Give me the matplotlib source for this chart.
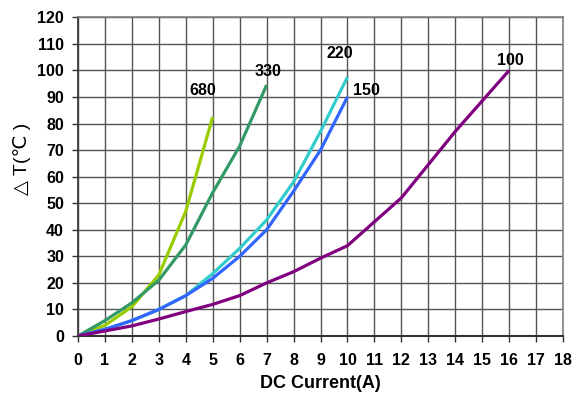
import matplotlib
matplotlib.use("Agg")
import matplotlib.pyplot as plt

plt.rcParams['font.family'] = ['Liberation Sans', 'DejaVu Sans']

# data
x_680 = [0, 1, 2, 3, 4, 5]
y_680 = [0, 4, 11, 23, 47, 82.5]
x_330 = [0, 1, 2, 3, 4, 5, 6, 7]
y_330 = [0, 5.8, 12.5, 21, 34.3, 54, 71.5, 94.5]
x_220 = [0, 1, 2, 3, 4, 5, 6, 7, 8, 9, 10]
y_220 = [0, 2.5, 5.8, 10, 15.2, 23.5, 33, 43.7, 58, 77, 97.5]
x_150 = [0, 1, 2, 3, 4, 5, 6, 7, 8, 9, 10]
y_150 = [0, 2.5, 5.8, 10, 15.2, 21.7, 30, 40, 54.5, 70, 90]
x_100 = [0, 1, 2, 3, 4, 5, 6, 7, 8, 9, 10, 11, 12, 13, 14, 15, 16]
y_100 = [0, 1.9, 3.8, 6.4, 9.2, 11.9, 15.2, 20, 24.2, 29.3, 34, 43, 52, 64.5, 77, 88.5, 100]

series = [
    (x_680, y_680, '#99cc00', '680'),
    (x_330, y_330, '#339966', '330'),
    (x_220, y_220, '#33cccc', '220'),
    (x_150, y_150, '#3366ff', '150'),
    (x_100, y_100, '#800080', '100'),
]
label_pos = {'680': (4.64, 92.6), '330': (7.05, 99.4), '220': (9.73, 106.5),
             '150': (10.7, 92.6), '100': (16.04, 103.9)}

fig = plt.figure(figsize=(5.83, 4.01), dpi=100)
ax = fig.add_axes([0.1338, 0.1621, 0.8319, 0.7948])

for xs, ys, c, name in series:
    ax.plot(xs, ys, color=c, linewidth=2.3, solid_capstyle='butt', zorder=3)
    lx, ly = label_pos[name]
    ax.text(lx, ly, name, fontsize=11.5, fontweight='bold', ha='center', va='center')

ax.set_xlim(0, 18)
ax.set_ylim(0, 120)
ax.set_xticks(range(0, 19))
ax.set_yticks(range(0, 121, 10))
ax.grid(True, color='#555555', linewidth=1.0)
ax.set_axisbelow(True)
for s in ax.spines.values():
    s.set_color('#808080')
    s.set_linewidth(1.2)
ax.spines['bottom'].set_color('#333333')
ax.spines['bottom'].set_linewidth(1.5)
ax.spines['left'].set_color('#333333')
ax.tick_params(axis='both', direction='out', length=4, width=1, color='#333333',
               labelsize=11.5, pad=6)
ax.tick_params(axis='x', pad=8)
for lab in ax.get_xticklabels() + ax.get_yticklabels():
    lab.set_fontweight('bold')

ax.set_xlabel('DC Current(A)', fontsize=13, fontweight='bold', labelpad=5)
ax.set_ylabel('△ T(℃ )', fontsize=14)
ax.yaxis.set_label_coords(-0.097, 0.555)

fig.savefig('out.png', dpi=100)
